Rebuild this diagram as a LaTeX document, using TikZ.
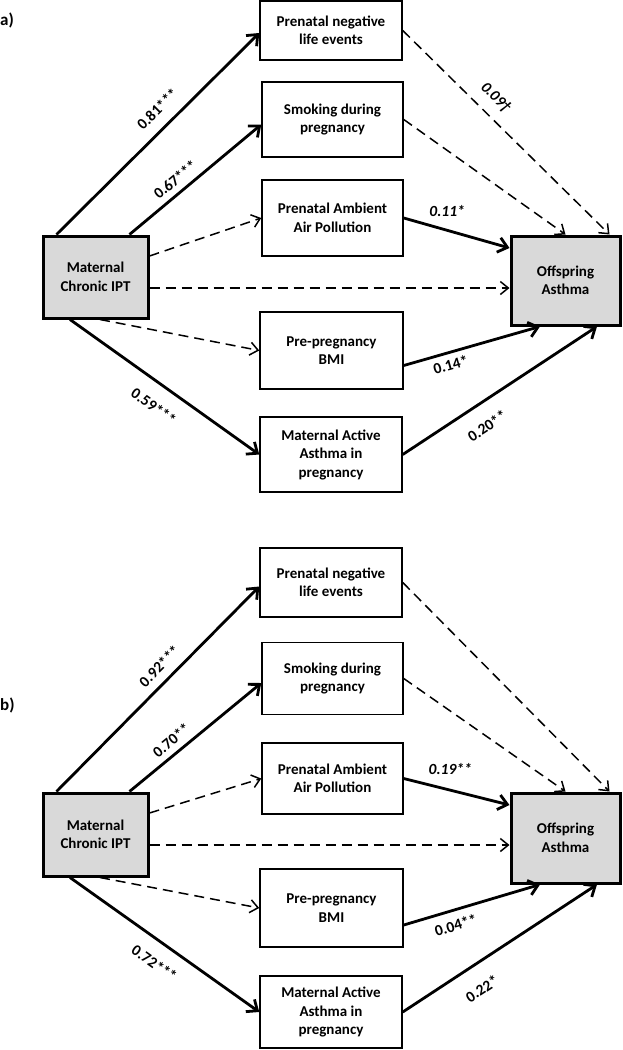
\documentclass[tikz,border=0pt]{standalone}
\usepackage{fontspec}
\setmainfont{Carlito}
\usetikzlibrary{arrows.meta,positioning}
\definecolor{keygray}{RGB}{217,217,217}
\newcommand\boxfont{\bfseries\fontsize{15}{18.5}\selectfont}
\newcommand\labfont{\bfseries\fontsize{15.5}{17}\selectfont}

\begin{document}
\begin{tikzpicture}[x=1pt, y=-1pt,
  box/.style={draw, line width=1.5pt, align=center, inner sep=2pt, font=\boxfont},
  keybox/.style={box, line width=3pt, fill=keygray},
  sig/.style={line width=2.8pt, -{Straight Barb[length=9pt,width=15pt]}},
  ns/.style={line width=1.5pt, dash pattern=on 10pt off 6pt, -{Straight Barb[length=8pt,width=13pt]}},
  lab/.style={font=\labfont, inner sep=1pt},
  panel/.style={font=\bfseries\fontsize{17}{20}\selectfont, anchor=west, inner sep=0pt}]
  \useasboundingbox (0,0) rectangle (623,1050);

  % panel a
  \node[panel] (pa) at (0,20) {a)};
  \node[box, minimum width=142pt, minimum height=59pt] (a-neg) at (331,30.5) {Prenatal negative\\life events};
  \node[box, minimum width=141pt, minimum height=75pt] (a-smk) at (332.5,119.5) {Smoking during\\pregnancy};
  \node[box, minimum width=141pt, minimum height=76pt] (a-air) at (332.5,218) {Prenatal Ambient\\Air Pollution};
  \node[keybox, minimum width=105pt, minimum height=82pt] (a-mat) at (95.5,277) {Maternal\\Chronic IPT};
  \node[box, minimum width=143pt, minimum height=77pt] (a-bmi) at (331.5,350.5) {Pre-pregnancy\\BMI};
  \node[box, minimum width=142pt, minimum height=75pt] (a-act) at (331,454.5) {Maternal Active\\Asthma in\\pregnancy};
  \node[keybox, minimum width=109pt, minimum height=89pt] (a-off) at (565.5,280.5) {Offspring\\Asthma};

  \draw[sig] ([xshift=15pt]a-mat.north west) -- ([yshift=-2.5pt]a-neg.west)
    node[lab, sloped, above=10pt, pos=0.56] {0.81***};
  \draw[sig] ([xshift=-20pt]a-mat.north east) -- ([yshift=-5pt]a-smk.west)
    node[lab, sloped, above=5pt, pos=0.41] {0.67***};
  \draw[ns] ([yshift=21pt]a-mat.east) -- (a-air.west);
  \draw[ns] ([yshift=-11pt]a-mat.east) -- ([yshift=-11pt]a-mat.east -| a-off.west);
  \draw[ns] ([xshift=4.5pt]a-mat.south) -- (a-bmi.west);
  \draw[sig] ([xshift=-25.5pt]a-mat.south) -- (a-act.west)
    node[lab, sloped, below=14pt, pos=0.51] {0.59***};
  \draw[ns] (a-neg.east) -- ([xshift=-12pt]a-off.north east)
    node[lab, sloped, above=9pt, pos=0.39] {\itshape 0.09†};
  \draw[ns] (a-smk.east) -- (a-off.north);
  \draw[sig] (a-air.east) -- ([yshift=32.5pt]a-off.west)
    node[lab, above=11pt, pos=0.41] {\itshape 0.11*};
  \draw[sig] ([yshift=-15pt]a-bmi.east) -- ([xshift=-25.5pt]a-off.south)
    node[lab, sloped, below=4pt, pos=0.32] {0.14*};
  \draw[sig] (a-act.east) -- ([xshift=31.5pt]a-off.south)
    node[lab, sloped, below=14.5pt, pos=0.37] {0.20**};

  % panel b
  \node[panel] (pb) at (0,705) {b)};
  \node[box, minimum width=142pt, minimum height=69pt] (b-neg) at (331,582.5) {Prenatal negative\\life events};
  \node[box, minimum width=141pt, minimum height=72pt] (b-smk) at (332.5,678.5) {Smoking during\\pregnancy};
  \node[box, minimum width=141pt, minimum height=71pt] (b-air) at (332.5,778.5) {Prenatal Ambient\\Air Pollution};
  \node[keybox, minimum width=105pt, minimum height=83pt] (b-mat) at (95.5,834.5) {Maternal\\Chronic IPT};
  \node[box, minimum width=143pt, minimum height=78pt] (b-bmi) at (331.5,908) {Pre-pregnancy\\BMI};
  \node[box, minimum width=142pt, minimum height=72pt] (b-act) at (331,1012) {Maternal Active\\Asthma in\\pregnancy};
  \node[keybox, minimum width=109pt, minimum height=90pt] (b-off) at (565.5,838) {Offspring\\Asthma};

  \draw[sig] ([xshift=15pt]b-mat.north west) -- ([yshift=-4pt]b-neg.west)
    node[lab, sloped, above=7pt, pos=0.56] {0.92***};
  \draw[sig] ([xshift=-20pt]b-mat.north east) -- ([yshift=-4.5pt]b-smk.west)
    node[lab, sloped, above=5pt, pos=0.38] {0.70**};
  \draw[ns] ([yshift=21.5pt]b-mat.east) -- (b-air.west);
  \draw[ns] ([yshift=-10.5pt]b-mat.east) -- ([yshift=-10.5pt]b-mat.east -| b-off.west);
  \draw[ns] ([xshift=4.5pt]b-mat.south) -- (b-bmi.west);
  \draw[sig] ([xshift=-25.5pt]b-mat.south) -- (b-act.west)
    node[lab, sloped, below=13pt, pos=0.51] {0.72***};
  \draw[ns] (b-neg.east) -- ([xshift=-12pt]b-off.north east);
  \draw[ns] (b-smk.east) -- (b-off.north);
  \draw[sig] (b-air.east) -- ([yshift=33pt]b-off.west)
    node[lab, above=13pt, pos=0.44] {\itshape 0.19**};
  \draw[sig] ([yshift=-17pt]b-bmi.east) -- ([xshift=-25.5pt]b-off.south)
    node[lab, sloped, below=7pt, pos=0.35] {0.04**};
  \draw[sig] (b-act.east) -- ([xshift=31.5pt]b-off.south)
    node[lab, sloped, below=16pt, pos=0.34] {0.22*};
\end{tikzpicture}
\end{document}
